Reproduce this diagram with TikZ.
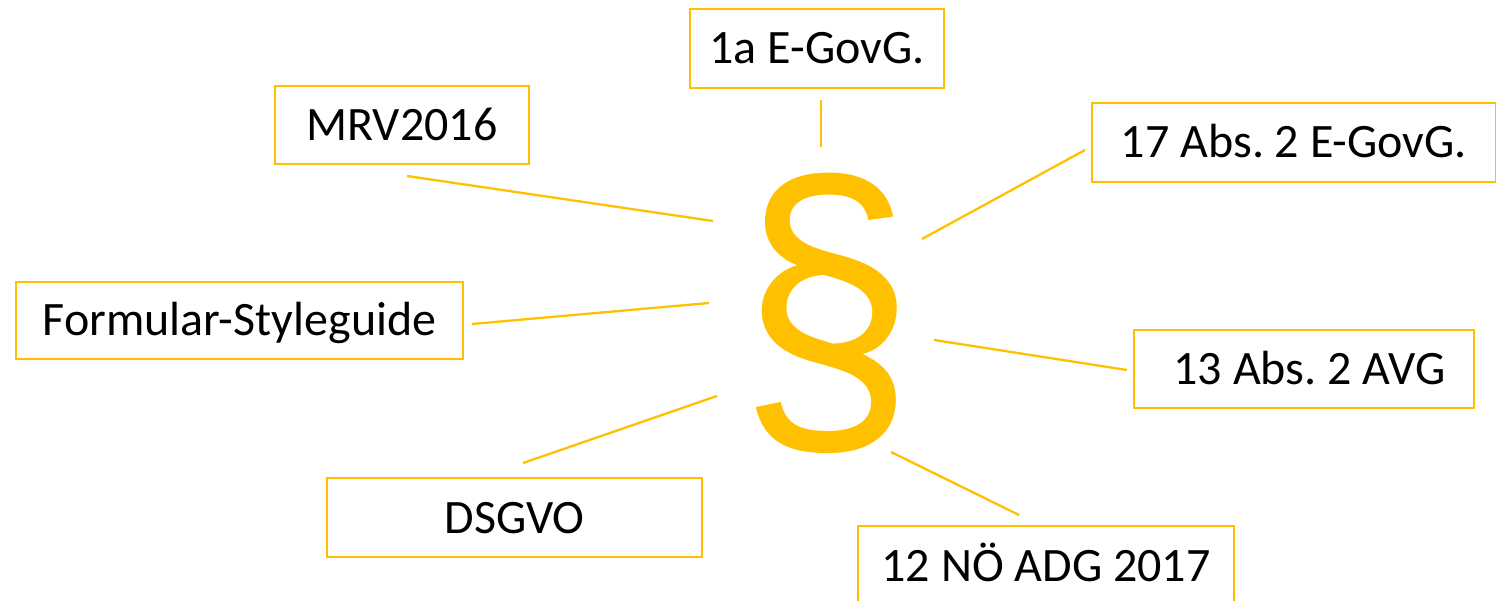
\documentclass[tikz,border=0pt]{standalone}
\usepackage{fontspec}
\setmainfont{Carlito}
\newfontfamily\parafont{Liberation Sans}
\definecolor{gold}{HTML}{FFC000}
\frenchspacing
\tikzset{
  lawbox/.style={draw=gold, line width=2.4pt, inner sep=0pt, text=black,
    font=\fontsize{48}{56}\selectfont, text height=31pt, text depth=0pt,
    minimum height=79pt},
  ray/.style={draw=gold, line width=2.3pt}
}
\begin{document}
\begin{tikzpicture}[x=1pt,y=-1pt]
  \useasboundingbox (0,0) rectangle (1496,601);

  % central paragraph sign
  \node[text=gold, inner sep=0pt, xscale=0.915,
        font=\parafont\fontsize{347}{347}\selectfont]
    (para) at (827,313) {§};

  % surrounding boxes
  \node[lawbox, minimum width=254pt] (egov1a) at (817,48.5) {1a E-GovG.};
  \node[lawbox, minimum width=254pt, minimum height=78pt] (mrv) at (402,125) {MRV2016};
  \node[lawbox, minimum width=404pt] (egov17) at (1294,142.5) {17 Abs. 2 E-GovG.};
  \node[lawbox, minimum width=447pt, minimum height=77pt] (style) at (239.5,320.5) {Formular-Styleguide};
  \node[lawbox, minimum width=340pt, minimum height=78pt] (avg) at (1304,369) {\ 13 Abs. 2 AVG};
  \node[lawbox, minimum width=375pt] (dsgvo) at (514.5,517.5) {DSGVO};
  \node[lawbox, minimum width=376pt] (adg) at (1046,565.5) {12 NÖ ADG 2017};

  % end points of the rays
  \coordinate (r1a) at (821,100);  \coordinate (r1b) at (821,147);
  \coordinate (r2a) at (407,176);  \coordinate (r2b) at (713,221);
  \coordinate (r3a) at (1085,150); \coordinate (r3b) at (922,239);
  \coordinate (r4a) at (472,324);  \coordinate (r4b) at (709,303);
  \coordinate (r5a) at (1127,370); \coordinate (r5b) at (934,340);
  \coordinate (r6a) at (523,463);  \coordinate (r6b) at (717,396);
  \coordinate (r7a) at (1019,515); \coordinate (r7b) at (891,452);

  \draw[ray] (r1a) -- (r1b);
  \draw[ray] (r2a) -- (r2b);
  \draw[ray] (r3a) -- (r3b);
  \draw[ray] (r4a) -- (r4b);
  \draw[ray] (r5a) -- (r5b);
  \draw[ray] (r6a) -- (r6b);
  \draw[ray] (r7a) -- (r7b);
\end{tikzpicture}
\end{document}
